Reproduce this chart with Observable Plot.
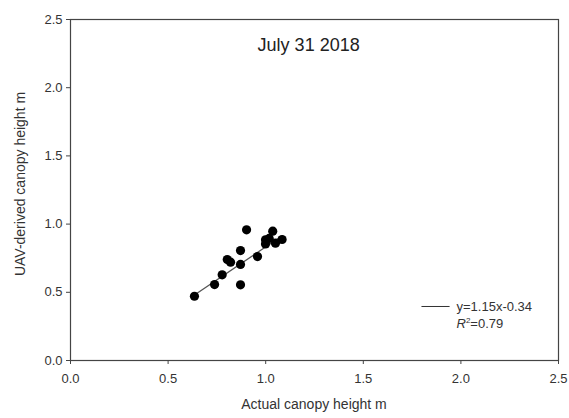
<!DOCTYPE html>
<html><head><meta charset="utf-8">
<script src="https://cdn.jsdelivr.net/npm/d3@7"></script>
<script src="https://cdn.jsdelivr.net/npm/@observablehq/plot@0.6"></script>
<style>body{margin:0;background:#fff;} svg{font-family:"Liberation Sans",Arial,sans-serif;}</style>
</head><body><div id="chart"></div>
<script>
const actualHeight = [0.635,0.738,0.777,0.803,0.820,0.871,0.871,0.871,0.902,0.958,0.999,0.999,1.018,1.036,1.050,1.084];
const uavHeight    = [0.471,0.557,0.628,0.740,0.721,0.704,0.806,0.555,0.958,0.762,0.885,0.855,0.895,0.948,0.860,0.887];
const fitX = [0.635,1.085];
const fitY = [0.48,0.915];
const ticks = [0,0.5,1.0,1.5,2.0,2.5];
const titleText = "July 31 2018";
const eqText = "y=1.15x-0.34";
const r2Value = "0.79";

const pts = actualHeight.map((x,i)=>({x, y: uavHeight[i]}));
const fit = fitX.map((x,i)=>({x, y: fitY[i]}));

const chart = Plot.plot({
  width: 569, height: 418,
  marginLeft: 70, marginRight: 11, marginTop: 19, marginBottom: 58,
  style: {fontFamily: "Liberation Sans, Arial, sans-serif", fontSize: "13px", color: "#333"},
  x: {domain: [0,2.5], label: null},
  y: {domain: [0,2.5], label: null},
  marks: [
    Plot.frame({stroke: "#444", strokeWidth: 1.2}),
    Plot.axisX({ticks, tickFormat: d3.format(".1f"), tickSize: 4, tickPadding: 9, fontSize: 13, label: null, stroke: "#444"}),
    Plot.axisY({ticks, tickFormat: d3.format(".1f"), tickSize: 4, tickPadding: 4, fontSize: 13, label: null, stroke: "#444"}),
    Plot.line(fit, {x: "x", y: "y", stroke: "#555", strokeWidth: 1.3}),
    Plot.dot(pts, {x: "x", y: "y", r: 4.6, fill: "#000", stroke: "none"}),
    Plot.text([titleText], {x: 1.22, y: 2.31, text: d=>d, fontSize: 18, fill: "#222"}),
    Plot.line([{x:1.80,y:0.396},{x:1.94,y:0.396}], {x:"x", y:"y", stroke:"#333", strokeWidth:1})
  ]
});
const svg = d3.select(chart);
const sx = chart.scale("x"), sy = chart.scale("y");
svg.append("text").attr("x", sx.apply(1.98)).attr("y", sy.apply(0.396)).attr("dy","0.35em")
  .attr("text-anchor","start").attr("font-size", 13).attr("fill","#333").text(eqText);
const r2 = svg.append("text").attr("x", sx.apply(1.98)).attr("y", sy.apply(0.235))
  .attr("text-anchor","start").attr("font-size", 13).attr("fill","#333");
r2.append("tspan").attr("font-style","italic").text("R");
r2.append("tspan").attr("font-size", 8).attr("dy", -5).text("2");
r2.append("tspan").attr("dy", 5).text("=" + r2Value);
svg.append("text").attr("x", (70+558)/2).attr("y", 409).attr("text-anchor","middle")
  .attr("font-size", 14).attr("fill","#333").text("Actual canopy height m");
svg.append("text").attr("transform","translate(25,184) rotate(-90)").attr("text-anchor","middle")
  .attr("font-size", 14).attr("fill","#333").text("UAV-derived canopy height m");
document.getElementById("chart").appendChild(chart);
</script></body></html>
